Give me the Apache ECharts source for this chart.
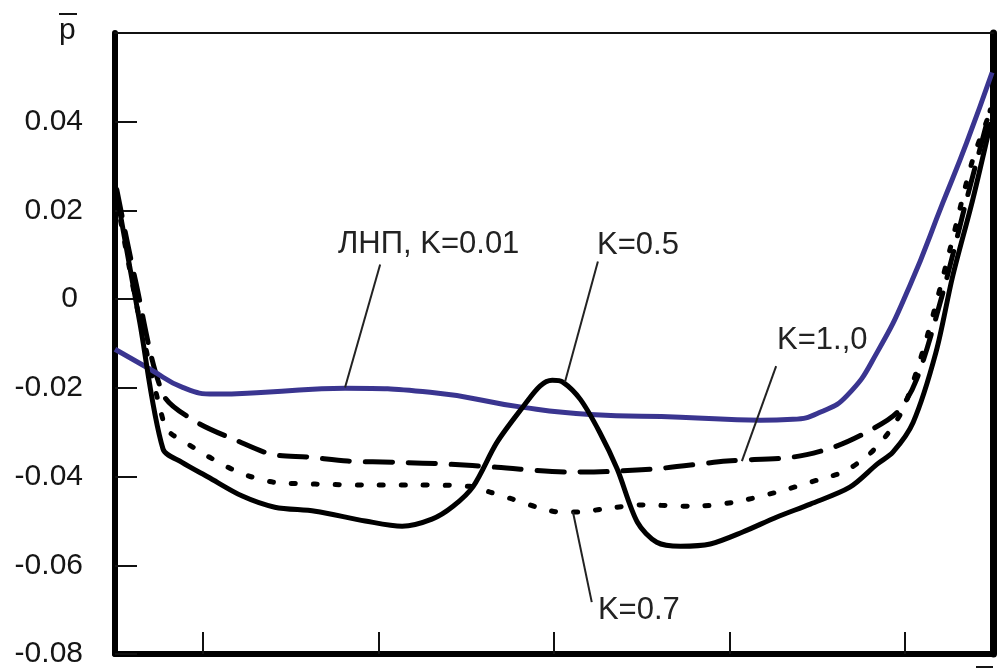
<!DOCTYPE html>
<html>
<head>
<meta charset="utf-8">
<script src="https://cdn.jsdelivr.net/npm/echarts@6/dist/echarts.min.js"></script>
<style>
  html, body { margin: 0; padding: 0; background: #ffffff; }
  #chart { width: 997px; height: 669px; }
</style>
</head>
<body>
<div id="chart"></div>
<script>
// Pressure coefficient p̄ along the relative coordinate x̄ for several K values

// ЛНП, K=0.01 (blue, solid)
const blueX = [0, 0.040, 0.077, 0.114, 0.171, 0.262, 0.359, 0.465, 0.541, 0.644, 0.735, 0.772, 0.803, 0.834, 0.868, 0.905, 0.943, 0.970, 0.999];
const blueY = [-0.0113, -0.0158, -0.0199, -0.0214, -0.0210, -0.0201, -0.0210, -0.0244, -0.0260, -0.0266, -0.0273, -0.0271, -0.0255, -0.0217, -0.0120, 0.0029, 0.0218, 0.0353, 0.0511];

// K=0.5 (black, solid)
const k05X = [0.002, 0.028, 0.0547, 0.0763, 0.106, 0.145, 0.182, 0.228, 0.285, 0.327, 0.361, 0.385, 0.408, 0.435, 0.465, 0.484, 0.498, 0.510, 0.530, 0.552, 0.572, 0.595, 0.617, 0.644, 0.678, 0.715, 0.754, 0.792, 0.837, 0.868, 0.886, 0.909, 0.935, 0.954, 0.977, 0.997];
const k05Y = [0.0236, -0.0050, -0.0338, -0.0368, -0.0401, -0.0444, -0.0469, -0.0478, -0.0500, -0.0512, -0.0496, -0.0467, -0.0422, -0.0323, -0.0242, -0.0196, -0.0183, -0.0187, -0.0226, -0.0300, -0.0383, -0.0503, -0.0548, -0.0557, -0.0552, -0.0525, -0.0491, -0.0462, -0.0424, -0.0372, -0.0345, -0.0278, -0.0120, 0.0051, 0.0225, 0.0394];

// K=1.0 (black, long dashes)
const k10X = [0.002, 0.023, 0.0547, 0.091, 0.140, 0.179, 0.220, 0.265, 0.322, 0.379, 0.435, 0.518, 0.567, 0.624, 0.697, 0.772, 0.818, 0.856, 0.891, 0.913, 0.943, 0.970, 0.997];
const k10Y = [0.0247, 0.0045, -0.0214, -0.0275, -0.0320, -0.0350, -0.0356, -0.0365, -0.0368, -0.0372, -0.0379, -0.0390, -0.0388, -0.0381, -0.0365, -0.0356, -0.0334, -0.0300, -0.0255, -0.0181, 0.0015, 0.0225, 0.0427];

// K=0.7 (black, dotted)
const k07X = [0.002, 0.028, 0.057, 0.065, 0.089, 0.110, 0.133, 0.156, 0.182, 0.228, 0.285, 0.342, 0.404, 0.427, 0.453, 0.481, 0.507, 0.530, 0.556, 0.601, 0.658, 0.704, 0.754, 0.803, 0.829, 0.852, 0.868, 0.886, 0.900, 0.925, 0.951, 0.977, 0.999];
const k07Y = [0.0225, -0.0046, -0.0289, -0.0305, -0.0334, -0.0359, -0.0383, -0.0401, -0.0413, -0.0417, -0.0419, -0.0419, -0.0422, -0.0435, -0.0451, -0.0469, -0.0480, -0.0480, -0.0473, -0.0464, -0.0467, -0.0458, -0.0435, -0.0406, -0.0390, -0.0361, -0.0332, -0.0287, -0.0237, -0.0084, 0.0112, 0.0315, 0.0432];

// Axis ticks and labels
const xTickValues = [0.1, 0.3, 0.5, 0.7, 0.9];
const yTickValues = [-0.08, -0.06, -0.04, -0.02, 0, 0.02, 0.04];
const yTickLabels = ['-0.08', '-0.06', '-0.04', '-0.02', '0', '0.02', '0.04'];

// Curve captions: text, anchor point (data units), leader line start and end (data units)
const captionText = ['ЛНП, K=0.01', 'K=0.5', 'K=1.,0', 'K=0.7'];
const captionAt = [[0.254, 0.0123], [0.549, 0.0121], [0.754, -0.0093], [0.550, -0.0701]];
const leaderFrom = [[0.302, 0.0078], [0.550, 0.0085], [0.753, -0.0151], [0.543, -0.0683]];
const leaderTo = [[0.262, -0.0199], [0.5125, -0.0187], [0.714, -0.0365], [0.5216, -0.0480]];

const FONT = "'Liberation Sans', Arial, Helvetica, sans-serif";
const pairs = (xs, ys) => xs.map((x, i) => [x, ys[i]]);

const chart = echarts.init(document.getElementById('chart'), null, { renderer: 'canvas' });

const leaderLines = leaderFrom.map((p, i) => [{ coord: p }, { coord: leaderTo[i] }]);

// fixed decorations: the p̄ axis name and the overbar of x̄
const staticGraphics = [
  { type: 'text', left: 59, top: 16, style: { text: 'p', fontFamily: FONT, fontSize: 30, fill: '#151515' } },
  { type: 'line', shape: { x1: 59, y1: 14, x2: 77, y2: 14 }, style: { stroke: '#151515', lineWidth: 2 } },
  { type: 'line', shape: { x1: 976, y1: 667, x2: 993, y2: 667 }, style: { stroke: '#151515', lineWidth: 2 } }
];

const option = {
  animation: false,
  backgroundColor: '#ffffff',
  grid: { left: 115, right: 4, top: 33, bottom: 14, containLabel: false },
  xAxis: [
    {
      type: 'value', min: 0, max: 1, position: 'bottom',
      axisLine: { show: true, onZero: false, lineStyle: { color: '#000', width: 6, cap: 'round' } },
      axisTick: { show: true, inside: true, length: 22, customValues: xTickValues, lineStyle: { color: '#111', width: 2 } },
      axisLabel: { show: false },
      splitLine: { show: false }
    },
    {
      type: 'value', min: 0, max: 1, position: 'top',
      axisLine: { show: true, onZero: false, lineStyle: { color: '#111', width: 2 } },
      axisTick: { show: false }, axisLabel: { show: false }, splitLine: { show: false }
    }
  ],
  yAxis: [
    {
      type: 'value', min: -0.08, max: 0.06, interval: 0.02, position: 'left',
      axisLine: { show: true, onZero: false, lineStyle: { color: '#000', width: 6, cap: 'round' } },
      axisTick: { show: true, inside: true, length: 22, lineStyle: { color: '#111', width: 2 } },
      axisLabel: {
        show: true,
        customValues: yTickValues,
        margin: 32,
        fontFamily: FONT,
        fontSize: 30,
        color: '#151515',
        formatter: function (v) {
          const i = yTickValues.findIndex(t => Math.abs(t - v) < 1e-9);
          if (i < 0) return '';
          return Math.abs(v) < 1e-9 ? '{zero|' + yTickLabels[i] + '}' : yTickLabels[i];
        },
        rich: {
          zero: { fontFamily: FONT, fontSize: 30, color: '#151515', padding: [0, 5, 0, 0] }
        }
      },
      splitLine: { show: false }
    },
    {
      type: 'value', min: -0.08, max: 0.06, position: 'right',
      axisLine: { show: true, onZero: false, lineStyle: { color: '#000', width: 7, cap: 'round' } },
      axisTick: { show: false }, axisLabel: { show: false }, splitLine: { show: false }
    }
  ],
  series: [
    {
      name: 'K=0.7', type: 'line', data: pairs(k07X, k07Y),
      showSymbol: false, smooth: 0.3,
      lineStyle: { color: '#000', width: 5, type: [4, 18], cap: 'round', join: 'round' },
      z: 3
    },
    {
      name: 'K=1.0', type: 'line', data: pairs(k10X, k10Y),
      showSymbol: false, smooth: 0.3,
      lineStyle: { color: '#000', width: 5, type: [27, 16], cap: 'round', join: 'round' },
      z: 3
    },
    {
      name: 'K=0.5', type: 'line', data: pairs(k05X, k05Y),
      showSymbol: false, smooth: 0.3,
      lineStyle: { color: '#000', width: 5, type: 'solid', cap: 'round', join: 'round' },
      z: 4
    },
    {
      name: 'ЛНП, K=0.01', type: 'line', data: pairs(blueX, blueY),
      showSymbol: false, smooth: 0.5,
      lineStyle: { color: '#3a3590', width: 5, type: 'solid' },
      z: 3,
      markLine: {
        silent: true, symbol: ['none', 'none'], animation: false,
        label: { show: false },
        lineStyle: { color: '#222', width: 2, type: 'solid' },
        emphasis: { disabled: true },
        data: leaderLines
      }
    }
  ],
  graphic: staticGraphics
};

chart.setOption(option);

// captions placed through the chart's own coordinate conversion
const captionGraphics = captionText.map((t, i) => {
  const p = chart.convertToPixel({ xAxisIndex: 0, yAxisIndex: 0 }, captionAt[i]);
  return {
    type: 'text', x: p[0], y: p[1], silent: true,
    style: { text: t, fontFamily: FONT, fontSize: 31, fill: '#222', align: 'left', verticalAlign: 'middle' }
  };
});
chart.setOption({ graphic: staticGraphics.concat(captionGraphics) });
</script>
</body>
</html>
